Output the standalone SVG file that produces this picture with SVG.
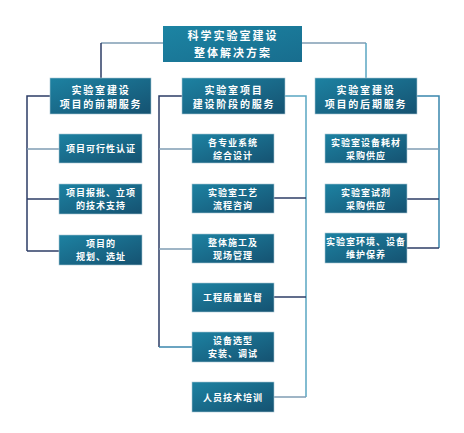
<svg xmlns="http://www.w3.org/2000/svg" width="464" height="433" viewBox="0 0 464 433">
<defs>
<linearGradient id="bx" x1="0" y1="0" x2="1" y2="1">
<stop offset="0" stop-color="#1d82a2"/>
<stop offset="1" stop-color="#155271"/>
</linearGradient>
<linearGradient id="top" x1="0" y1="0" x2="1" y2="1">
<stop offset="0" stop-color="#1c84a3"/>
<stop offset="1" stop-color="#186d8e"/>
</linearGradient>
<style>
.b{fill:url(#bx);stroke:#a9c6d3;stroke-width:0.6}
.t{fill:#fff;font-family:"Noto Sans CJK SC","Noto Sans",sans-serif;font-weight:bold;text-anchor:middle}
.s{font-size:9px;letter-spacing:1px}
.h{font-size:10px;letter-spacing:1.8px}
.m{font-size:11px;letter-spacing:2px}
.n{stroke:#2c3c66;stroke-width:1.5;fill:none}
.g{stroke:#7f9db3;stroke-width:1.5;fill:none}
.c{stroke:#5aa6c2;stroke-width:1.5;fill:none}
.d{stroke:#3a86ad;stroke-width:1.5;fill:none}
</style>
</defs>
<rect width="464" height="433" fill="#fff"/>
<g id="connectors">
<path class="g" d="M101 43H366"/>
<path class="n" d="M101 43V78"/>
<path class="c" d="M366 43V78"/>
<path class="n" d="M50 96H27V251"/>
<path class="g" d="M27 149H59"/>
<path class="n" d="M27 199H59"/>
<path class="n" d="M27 251H59"/>
<path class="n" d="M182 96H159V347"/>
<path class="g" d="M159 149H192"/>
<path class="g" d="M159 249H192"/>
<path class="d" d="M159 347H192"/>
<path class="c" d="M285 96H306V397"/>
<path class="n" d="M274 198H306"/>
<path class="n" d="M274 297H306"/>
<path class="g" d="M274 397H306"/>
<path class="d" d="M417 96H439V248"/>
<path class="g" d="M407 149H439"/>
<path class="n" d="M407 199H439"/>
<path class="n" d="M407 248H439"/>
</g>
<g id="root"><rect x="163" y="26" width="139" height="36" fill="url(#top)"/><text class="t m" x="233" y="40">科学实验室建设</text><text class="t m" x="233" y="57">整体解决方案</text></g>
<g id="h1"><rect class="b" x="50" y="78" width="101" height="36"/><text class="t h" x="101" y="94">实验室建设</text><text class="t h" x="101" y="108">项目的前期服务</text></g>
<g id="h2"><rect class="b" x="182" y="78" width="103" height="36"/><text class="t h" x="234" y="94">实验室项目</text><text class="t h" x="234" y="108">建设阶段的服务</text></g>
<g id="h3"><rect class="b" x="315" y="78" width="102" height="36"/><text class="t h" x="366" y="94">实验室建设</text><text class="t h" x="366" y="108">项目的后期服务</text></g>
<g id="l1"><rect class="b" x="59" y="134" width="83" height="29"/><text class="t s" x="101" y="152">项目可行性认证</text></g>
<g id="l2"><rect class="b" x="59" y="184" width="83" height="30"/><text class="t s" x="101" y="196">项目报批、立项</text><text class="t s" x="101" y="209">的技术支持</text></g>
<g id="l3"><rect class="b" x="59" y="235" width="83" height="30"/><text class="t s" x="101" y="247">项目的</text><text class="t s" x="101" y="260">规划、选址</text></g>
<g id="m1"><rect class="b" x="192" y="134" width="82" height="29"/><text class="t s" x="233" y="146">各专业系统</text><text class="t s" x="233" y="159">综合设计</text></g>
<g id="m2"><rect class="b" x="192" y="184" width="82" height="29"/><text class="t s" x="233" y="196">实验室工艺</text><text class="t s" x="233" y="209">流程咨询</text></g>
<g id="m3"><rect class="b" x="192" y="234" width="82" height="29"/><text class="t s" x="233" y="246">整体施工及</text><text class="t s" x="233" y="259">现场管理</text></g>
<g id="m4"><rect class="b" x="192" y="283" width="82" height="29"/><text class="t s" x="233" y="301">工程质量监督</text></g>
<g id="m5"><rect class="b" x="192" y="332" width="82" height="30"/><text class="t s" x="233" y="344">设备选型</text><text class="t s" x="233" y="357">安装、调试</text></g>
<g id="m6"><rect class="b" x="192" y="382" width="82" height="30"/><text class="t s" x="233" y="401">人员技术培训</text></g>
<g id="r1"><rect class="b" x="325" y="134" width="82" height="29"/><text class="t s" x="366" y="146">实验室设备耗材</text><text class="t s" x="366" y="159">采购供应</text></g>
<g id="r2"><rect class="b" x="325" y="184" width="82" height="29"/><text class="t s" x="366" y="196">实验室试剂</text><text class="t s" x="366" y="209">采购供应</text></g>
<g id="r3"><rect class="b" x="325" y="233" width="82" height="30"/><text class="t s" x="366" y="245">实验室环境、设备</text><text class="t s" x="366" y="258">维护保养</text></g>
</svg>
